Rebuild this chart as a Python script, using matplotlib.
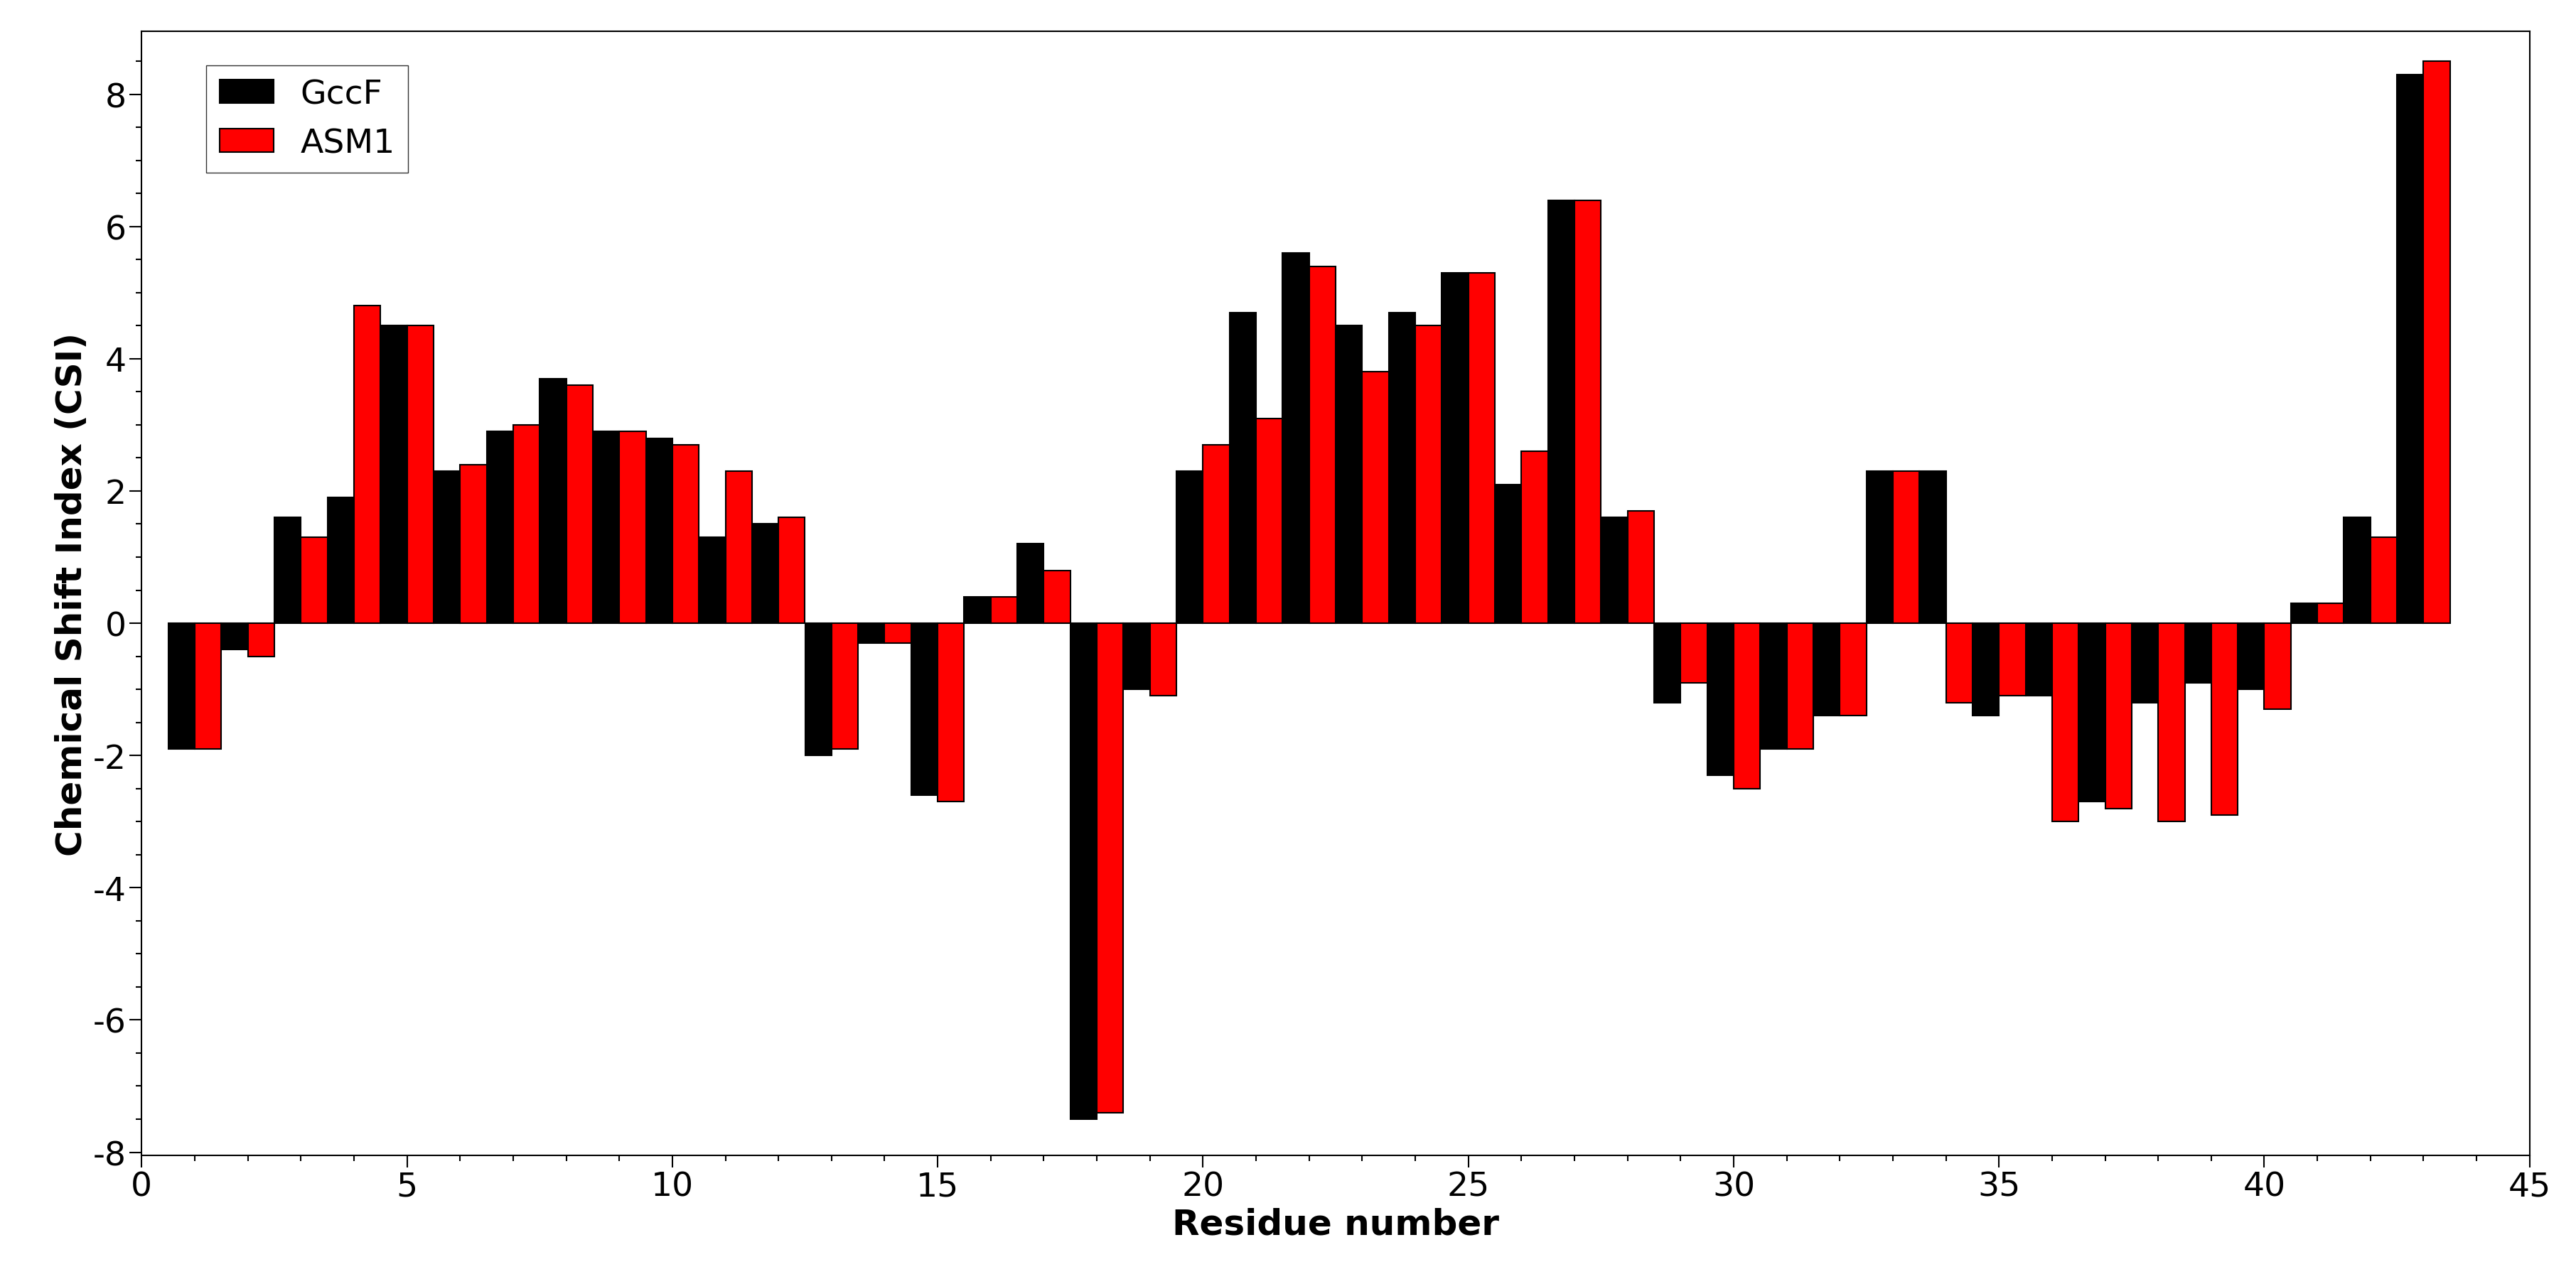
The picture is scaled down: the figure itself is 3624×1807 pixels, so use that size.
import matplotlib
matplotlib.use("Agg")
import matplotlib.pyplot as plt
import numpy as np
from matplotlib.ticker import AutoMinorLocator

plt.rcParams['axes.unicode_minus'] = False

residues = list(range(1, 44))
gccf = [-1.9,-0.4,1.6,1.9,4.5,2.3,2.9,3.7,2.9,2.8,1.3,1.5,-2.0,-0.3,-2.6,0.4,1.2,-7.5,-1.0,2.3,
        4.7,5.6,4.5,4.7,5.3,2.1,6.4,1.6,-1.2,-2.3,-1.9,-1.4,2.3,2.3,-1.4,-1.1,-2.7,-1.2,-0.9,-1.0,
        0.3,1.6,8.3]
asm1 = [-1.9,-0.5,1.3,4.8,4.5,2.4,3.0,3.6,2.9,2.7,2.3,1.6,-1.9,-0.3,-2.7,0.4,0.8,-7.4,-1.1,2.7,
        3.1,5.4,3.8,4.5,5.3,2.6,6.4,1.7,-0.9,-2.5,-1.9,-1.4,2.3,-1.2,-1.1,-3.0,-2.8,-3.0,-2.9,-1.3,
        0.3,1.3,8.5]

fig, ax = plt.subplots(figsize=(36.24, 18.08), dpi=100)
fig.subplots_adjust(left=0.055, right=0.982, top=0.975, bottom=0.1)
x = np.array(residues)
ax.bar(x - 0.25, gccf, width=0.5, color="black", edgecolor="black", linewidth=1.5, label="GccF")
ax.bar(x + 0.25, asm1, width=0.5, color="red", edgecolor="black", linewidth=1.5, label="ASM1")
ax.set_xlim(0, 45)
ax.set_ylim(-8.05, 8.95)
ax.set_xticks(range(0, 46, 5))
ax.set_yticks(range(-8, 9, 2))
ax.xaxis.set_minor_locator(AutoMinorLocator(5))
ax.yaxis.set_minor_locator(AutoMinorLocator(4))
ax.tick_params(which="both", direction="out", labelsize=34, width=1.5)
ax.tick_params(which="major", length=12)
ax.tick_params(which="minor", length=6)
for s in ax.spines.values():
    s.set_linewidth(1.5)
ax.set_xlabel("Residue number", fontsize=36, fontweight="bold", labelpad=4)
ax.set_ylabel("Chemical Shift Index (CSI)", fontsize=36, fontweight="bold")
ax.legend(loc="upper left", fontsize=34, frameon=True, fancybox=False, edgecolor="black",
          bbox_to_anchor=(0.02, 0.985), handlelength=1.6, borderpad=0.4)
fig.savefig("out.png")
